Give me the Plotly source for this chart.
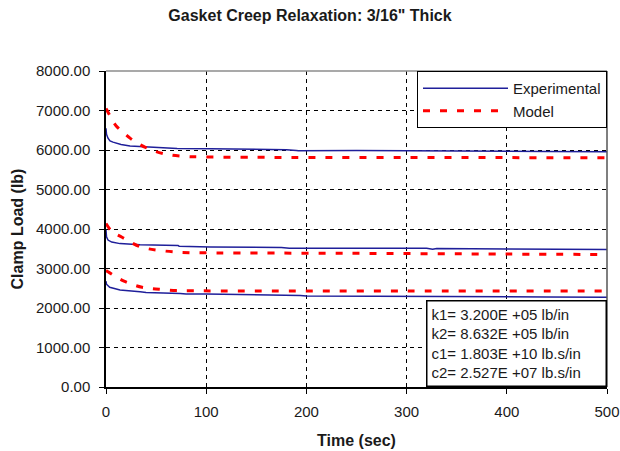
import plotly.graph_objects as go

# ---------------- data ----------------
exp_top_t = [0, 0.5, 2, 4, 7, 10, 15, 24, 41, 60, 71, 104, 130, 131, 180, 190, 192, 250, 300, 380, 385, 440, 500]
exp_top_v = [6550, 6400, 6300, 6230, 6200, 6180, 6140, 6100, 6080, 6055, 6040, 6030, 6025, 6010, 6008, 5990, 5980, 5985, 5975, 5970, 5955, 5962, 5955]

exp_mid_t = [0, 0.5, 2, 5.7, 14, 34, 72, 73, 104, 150, 155, 160, 170, 175, 183, 250, 320, 326, 330, 400, 500]
exp_mid_v = [3980, 3800, 3720, 3670, 3630, 3600, 3580, 3565, 3545, 3540, 3525, 3535, 3520, 3530, 3515, 3515, 3510, 3490, 3505, 3495, 3480]

exp_bot_t = [0, 0.5, 3.7, 14, 34, 40, 74, 80, 100, 159, 165, 194, 200, 300, 400, 440, 500]
exp_bot_v = [2680, 2600, 2525, 2455, 2410, 2395, 2370, 2355, 2355, 2340, 2320, 2315, 2305, 2300, 2290, 2280, 2270]

mod_top_t = [0, 5, 10, 17, 24, 33, 42, 50, 58, 65, 74, 85, 93, 150, 200, 300, 400, 500]
mod_top_v = [7050, 6820, 6615, 6450, 6300, 6150, 6035, 5960, 5905, 5870, 5845, 5830, 5825, 5815, 5812, 5810, 5807, 5805]

mod_mid_t = [0, 5, 10, 16, 25, 34, 42, 51, 68, 85, 110, 240, 400, 500]
mod_mid_v = [4140, 3960, 3870, 3790, 3660, 3550, 3500, 3465, 3420, 3400, 3395, 3385, 3365, 3355]

mod_bot_t = [0, 2, 10, 18, 27, 36, 45, 53, 70, 87, 150, 300, 500]
mod_bot_v = [2950, 2915, 2790, 2680, 2590, 2525, 2495, 2475, 2440, 2435, 2432, 2430, 2428]

y_ticks = [0, 1000, 2000, 3000, 4000, 5000, 6000, 7000, 8000]
y_tick_text = ["0.00", "1000.00", "2000.00", "3000.00", "4000.00", "5000.00", "6000.00", "7000.00", "8000.00"]
x_ticks = [0, 100, 200, 300, 400, 500]

params_text = [
    "k1= 3.200E +05 lb/in",
    "k2= 8.632E +05 lb/in",
    "c1= 1.803E +10 lb.s/in",
    "c2= 2.527E +07 lb.s/in",
]

# ---------------- figure ----------------
FONT = "Arial, Liberation Sans, sans-serif"
BLUE = "#1f1f9a"
RED = "#ff0000"

fig = go.Figure()

exp_sets = [(exp_top_t, exp_top_v), (exp_mid_t, exp_mid_v), (exp_bot_t, exp_bot_v)]
mod_sets = [(mod_top_t, mod_top_v), (mod_mid_t, mod_mid_v), (mod_bot_t, mod_bot_v)]

for i, (t, v) in enumerate(exp_sets):
    fig.add_trace(go.Scatter(
        x=t, y=v, mode="lines", name="Experimental",
        legendgroup="exp", showlegend=(i == 0),
        line=dict(color=BLUE, width=1.5),
    ))

for i, (t, v) in enumerate(mod_sets):
    fig.add_trace(go.Scatter(
        x=t, y=v, mode="lines", name="Model", line_shape="spline",
        legendgroup="mod", showlegend=(i == 0),
        line=dict(color=RED, width=3, dash="7px,10px"),
    ))

fig.update_layout(
    width=620, height=451,
    margin=dict(l=106, r=13, t=71, b=64, autoexpand=False),
    paper_bgcolor="white", plot_bgcolor="white",
    font=dict(family=FONT, size=15, color="#1a1a1a"),
    title=dict(
        text="<b>Gasket Creep Relaxation: 3/16\" Thick</b>",
        x=0.5, xref="container", xanchor="center",
        y=1 - 15 / 451, yref="container", yanchor="middle",
        font=dict(size=16, color="#1a1a1a"), automargin=False,
    ),
    legend=dict(
        x=1, xanchor="right", y=1, yanchor="top",
        bgcolor="white", bordercolor="black", borderwidth=1,
        font=dict(size=15, color="#1a1a1a"),
        itemwidth=85, tracegroupgap=0,
    ),
    showlegend=True,
)

fig.update_xaxes(
    range=[0, 500], tickvals=x_ticks, automargin=False,
    showline=True, linecolor="black", linewidth=1.5,
    ticks="outside", ticklen=5, tickcolor="black",
    showgrid=True, gridcolor="black", gridwidth=1, griddash="4px,4px",
    zeroline=False,
    tickfont=dict(size=15), ticklabelstandoff=5,
    title=dict(text="<b>Time (sec)</b>", font=dict(size=16), standoff=16),
)
fig.update_yaxes(
    range=[0, 8000], tickvals=y_ticks, ticktext=y_tick_text, automargin=False,
    showline=True, linecolor="black", linewidth=1.5,
    ticks="outside", ticklen=5, tickcolor="black",
    showgrid=True, gridcolor="black", gridwidth=1, griddash="4px,4px",
    zeroline=False,
    tickfont=dict(size=15), ticklabelstandoff=6,
    title=dict(text="<b>Clamp Load (lb)</b>", font=dict(size=16), standoff=8),
)

# grey frame on top and right
fig.add_shape(type="line", xref="paper", yref="paper", x0=0, x1=1, y0=1, y1=1,
              line=dict(color="#8c8c8c", width=1.5), layer="above")
fig.add_shape(type="line", xref="paper", yref="paper", x0=1, x1=1, y0=0, y1=1,
              line=dict(color="#555555", width=1.5), layer="above")

# parameter box
fig.add_annotation(
    xref="paper", yref="paper", x=1, y=0, xanchor="right", yanchor="bottom",
    text="<br>".join(params_text), align="left", showarrow=False,
    font=dict(size=15, color="#1a1a1a"),
    bgcolor="white", bordercolor="black", borderwidth=1.5, borderpad=4,
    width=170, height=76,
)

fig.write_html(
    "out.html",
    config=dict(displayModeBar=False),
    post_script="document.body.style.margin='0';document.body.style.overflow='hidden';",
)
